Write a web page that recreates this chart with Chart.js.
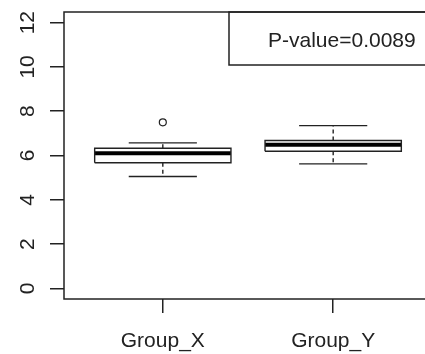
<!DOCTYPE html>
<html>
<head>
<meta charset="utf-8">
<script src="https://cdn.jsdelivr.net/npm/chart.js@4"></script>
<style>
  html, body { margin: 0; padding: 0; background: #fff; overflow: hidden; }
  #wrap { position: absolute; left: 0; top: 0; width: 440px; height: 354px; }
</style>
</head>
<body>
<div id="wrap"><canvas id="cv" width="440" height="354"></canvas></div>
<script>
// boxplot summary
const groups = ['Group_X', 'Group_Y'];
const lowerWhisker = [5.05, 5.62];
const q1 = [5.67, 6.19];
const median = [6.10, 6.48];
const q3 = [6.33, 6.68];
const upperWhisker = [6.57, 7.35];
const outliers = [[7.5], []];
const yTicks = [0, 2, 4, 6, 8, 10, 12];
const pLabel = 'P-value=0.0089';

const INK = '#222';
const FONT = '"Liberation Sans", Arial, sans-serif';
const BOX_HALF = 0.4, CAP_HALF = 0.2;

const line = (pts, extra) => Object.assign({
  data: pts, showLine: true, pointRadius: 0, borderColor: INK, borderWidth: 1.4, fill: false
}, extra || {});

const datasets = [];
groups.forEach((g, i) => {
  const c = i + 1;
  // box
  datasets.push(line([
    {x: c - BOX_HALF, y: q1[i]}, {x: c + BOX_HALF, y: q1[i]},
    {x: c + BOX_HALF, y: q3[i]}, {x: c - BOX_HALF, y: q3[i]},
    {x: c - BOX_HALF, y: q1[i]}
  ]));
  // median
  datasets.push(line([{x: c - BOX_HALF, y: median[i]}, {x: c + BOX_HALF, y: median[i]}], {borderWidth: 4, borderColor: '#000'}));
  // whiskers
  datasets.push(line([{x: c, y: q3[i]}, {x: c, y: upperWhisker[i]}], {borderDash: [4, 3]}));
  datasets.push(line([{x: c, y: q1[i]}, {x: c, y: lowerWhisker[i]}], {borderDash: [4, 3]}));
  // caps
  datasets.push(line([{x: c - CAP_HALF, y: upperWhisker[i]}, {x: c + CAP_HALF, y: upperWhisker[i]}]));
  datasets.push(line([{x: c - CAP_HALF, y: lowerWhisker[i]}, {x: c + CAP_HALF, y: lowerWhisker[i]}]));
  // outliers
  if (outliers[i].length) {
    datasets.push({
      data: outliers[i].map(v => ({x: c, y: v})), showLine: false,
      pointRadius: 3.5, pointBorderWidth: 1.2, pointBorderColor: INK, pointBackgroundColor: '#fff'
    });
  }
});

const frame = {
  id: 'frame',
  afterDraw(chart) {
    const {ctx, chartArea: a, scales} = chart;
    ctx.save();
    ctx.strokeStyle = INK;
    ctx.lineWidth = 1.5;
    ctx.strokeRect(a.left, a.top, a.right - a.left, a.bottom - a.top);
    // y tick labels, rotated like R
    ctx.fillStyle = INK;
    ctx.font = '21px ' + FONT;
    ctx.textAlign = 'center';
    ctx.textBaseline = 'alphabetic';
    yTicks.forEach(v => {
      const p = scales.y.getPixelForValue(v);
      ctx.save();
      ctx.translate(33.5, p);
      ctx.rotate(-Math.PI / 2);
      ctx.fillText(String(v), 0, 0);
      ctx.restore();
    });
    // legend box
    ctx.strokeRect(229, a.top, a.right - 229, 65 - a.top);
    ctx.textAlign = 'left';
    ctx.fillText(pLabel, 268, 46.5);
    ctx.restore();
  }
};

new Chart(document.getElementById('cv'), {
  type: 'scatter',
  data: { datasets },
  plugins: [frame],
  options: {
    responsive: false,
    animation: false,
    layout: { padding: { top: 12, right: 8, left: 0, bottom: 0 } },
    plugins: { legend: { display: false }, tooltip: { enabled: false } },
    scales: {
      x: {
        type: 'linear', min: 0.42, max: 2.58,
        afterBuildTicks: s => { s.ticks = groups.map((g, i) => ({ value: i + 1 })); },
        afterFit: s => { s.height = 55; },
        grid: { drawOnChartArea: false, tickLength: 14, color: INK, lineWidth: 1.5 },
        border: { display: false },
        ticks: {
          callback: v => groups[v - 1], color: INK, padding: 16,
          font: { family: FONT, size: 21 }, maxRotation: 0, autoSkip: false
        }
      },
      y: {
        min: -0.48, max: 12.48,
        afterBuildTicks: s => { s.ticks = yTicks.map(v => ({ value: v })); },
        afterFit: s => { s.width = 64; },
        grid: { drawOnChartArea: false, tickLength: 14, color: INK, lineWidth: 1.5 },
        border: { display: false },
        ticks: { display: false }
      }
    }
  }
});
</script>
</body>
</html>
